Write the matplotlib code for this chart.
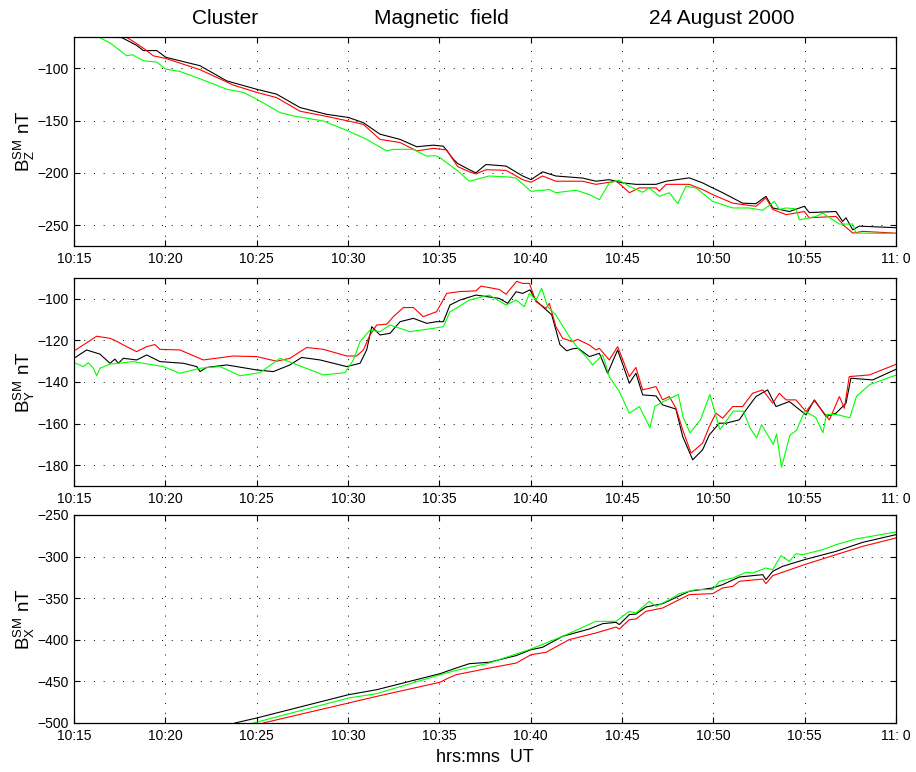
import matplotlib
matplotlib.use('Agg')
import matplotlib.pyplot as plt

plt.rcParams['font.family'] = ['Liberation Sans', 'DejaVu Sans']
plt.rcParams['mathtext.default'] = 'regular'

# time in minutes after 10:15 UT, field in nT
# Bz
bz_t_black = [0, 2.6, 2.88, 3.43, 3.8, 4.53, 5.02, 6.9, 8.36, 10.0, 11.09, 12.37, 13.83, 15.02, 15.84,
              16.75, 17.85, 18.76, 19.67, 20.22, 20.77, 21.0, 21.64, 22.0, 22.55, 23.65, 24.56, 25.02,
              25.65, 26.38, 27.84, 28.57, 29.3, 30.03, 30.76, 31.86, 32.41, 33.68, 34.41, 34.96, 35.51,
              36.6, 37.33, 37.88, 38.25, 39.16, 39.98, 40.25, 41.71, 42.08, 42.26, 42.63, 42.99, 45]
bz_black = [-70, -70.5, -73, -78, -83, -83, -89.4, -97.5, -112, -120, -124.7, -137.5, -144, -147, -152,
            -163, -168, -175, -173.5, -174.5, -187, -191, -197, -200, -192, -193.5, -203, -206.5,
            -199, -203, -205, -208, -206.5, -209.6, -211, -211, -208, -204.8, -209.6, -214.4, -219,
            -229, -229.5, -222.5, -233.6, -237, -232, -238, -237, -246.5, -243, -254.5, -251, -252.5]

bz_t_red = [0, 2.9, 3.4, 3.9, 4.34, 5.02, 6.9, 8.72, 10.0, 11.09, 12.37, 13.83, 15.02, 15.84, 16.75,
            17.85, 18.76, 19.67, 20.4, 21.0, 21.64, 22.0, 22.55, 23.65, 24.56, 25.02, 25.65, 26.38,
            27.84, 28.57, 29.67, 30.03, 30.4, 30.95, 31.86, 32.04, 32.41, 33.68, 34.41, 34.96, 36.06,
            37.33, 37.88, 38.25, 38.98, 39.98, 40.25, 41.71, 42.17, 42.63, 43.17, 45]
bz_red = [-70, -70.5, -76, -82, -88, -90.5, -101.3, -116, -123, -128, -141, -146, -150.4, -153.6, -168,
          -171, -179, -176.6, -178, -194, -199, -201, -197, -197.6, -206.5, -209, -203, -208,
          -208, -211, -208, -212.9, -219, -214.4, -214.4, -217.6, -211, -211, -216, -220.8, -229,
          -232, -224, -235, -240, -237, -243, -241.7, -250.7, -257.7, -256, -257.7]

bz_t_green = [0, 1.4, 2.0, 2.88, 3.2, 3.8, 4.53, 5.02, 5.8, 6.9, 8.36, 9.27, 10.0, 11.28, 12.0, 13.65,
              15.02, 16.02, 17.12, 17.48, 18.58, 19.31, 19.76, 20.04, 21.0, 21.64, 22.73, 23.83, 24.2,
              25.02, 26.02, 26.38, 27.48, 28.21, 28.76, 29.3, 29.85, 30.4, 31.13, 31.49, 32.04, 32.59,
              33.05, 33.5, 34.05, 34.96, 36.06, 36.97, 37.7, 38.34, 38.61, 38.98, 39.52, 39.71, 40.62,
              40.98, 41.9, 42.63, 42.81, 45]
bz_green = [-70, -70.5, -76, -87.9, -87, -92.7, -94, -100.7, -103, -110, -120, -123, -129.5, -142.3,
            -145.5, -150.4, -160, -168, -179, -177.5, -177.5, -184, -183.5, -185.6, -198, -208, -203,
            -204, -205, -217.7, -216, -219, -216.6, -220.8, -225.7, -209.6, -207, -212.9, -218.6,
            -214.4, -222.5, -219, -229.5, -212.9, -214.4, -227.3, -233.6, -233.6, -235.8, -227.3,
            -235, -233.6, -234.5, -245, -241.7, -238.5, -249, -249, -257.7, -258]

# By
by_t_black = [0, 0.69, 1.42, 1.97, 2.24, 2.43, 2.70, 3.43, 3.98, 4.71, 5.99, 6.72, 6.90, 7.26, 8.36,
              10.0, 10.91, 11.82, 12.46, 13.47, 14.93, 15.66, 16.02, 16.3, 16.75, 17.3, 17.85, 18.58,
              19.31, 19.85, 20.22, 20.58, 21.13, 22.0, 23.28, 23.74, 24.2, 24.56, 24.96, 25.3, 26.15,
              26.6, 26.97, 27.3, 27.6, 28.21, 28.76, 29.21, 29.76, 30.4, 30.76, 31.13, 31.86, 32.22,
              32.95, 33.32, 33.87, 34.41, 34.78, 35.33, 35.69, 36.42, 36.79, 37.33, 37.97, 38.43, 39.16,
              40.07, 40.53, 41.17, 41.71, 42.08, 42.26, 42.53, 43.72, 45]
by_black = [-128.6, -124.6, -126.6, -131, -129, -131, -128.6, -129.4, -127, -130.2, -131, -132.6, -135,
            -133, -131.8, -134.2, -135, -131.8, -128.2, -129.4, -132.6, -131, -124.6, -113.4, -117.4,
            -116.6, -111, -109.4, -111.8, -111, -111, -103, -100.6, -98.2, -99.8, -102.2, -96.6, -97.4,
            -95.7, -101, -107.7, -122, -125, -124, -123.8, -127.8, -126.2, -135.8, -124.6, -140.6,
            -135.8, -146.2, -146.7, -151, -153, -166.2, -177.4, -172.6, -165.4, -159.8, -159.8, -158.2,
            -153.4, -147, -143.8, -151.8, -149.4, -155.8, -148.6, -156.6, -155, -151.8, -150.2, -138.2,
            -139, -133.9]

by_t_red = [0, 1.24, 1.97, 2.24, 2.88, 3.43, 3.98, 4.43, 4.71, 5.8, 7.08, 8.72, 10.0, 11.09, 11.82,
            12.74, 13.65, 14.93, 15.47, 15.84, 16.2, 16.57, 17.12, 17.48, 18.03, 18.58, 19.12, 19.85,
            20.4, 21.13, 22.0, 22.28, 23.28, 23.65, 24.23, 24.56, 24.93, 25.29, 25.84, 26.02, 26.38,
            26.75, 27.3, 27.57, 28.21, 28.57, 28.76, 29.3, 29.76, 30.4, 30.76, 31.13, 31.86, 32.22,
            32.59, 32.95, 33.32, 33.78, 34.41, 34.78, 35.14, 35.51, 36.06, 36.6, 37.15, 37.7, 38.25,
            38.61, 38.98, 39.52, 40.07, 40.53, 41.35, 41.9, 42.17, 42.44, 43.54, 45]
by_red = [-125.1, -118, -119, -120, -123, -125.4, -123, -122, -124.3, -124.6, -129.4, -127.5, -127.8,
          -130, -128.6, -123.4, -124.3, -127.5, -127.5, -124.6, -117.4, -112.6, -112.2, -108.6, -104.2,
          -104.2, -108.6, -106.2, -97.4, -96.5, -96.2, -93.9, -95.5, -97.8, -91.6, -92.6, -92.6,
          -101.4, -104.6, -102.2, -113.4, -119, -120.6, -119.5, -122.2, -124.6, -123.8, -129.4, -123,
          -137.4, -133, -143.8, -142.2, -148.6, -147, -152.6, -163, -174.2, -169.4, -161.4, -155,
          -157.4, -151.8, -151.8, -145.4, -143.8, -150.2, -145.4, -148.6, -148.6, -154.2, -149,
          -158.2, -147, -152.6, -137.4, -136.6, -131.5]

by_t_green = [0, 0.51, 0.78, 1.06, 1.24, 1.42, 1.97, 3.25, 4.34, 4.89, 5.8, 6.9, 7.99, 9.09, 10.18,
              11.28, 12.0, 13.65, 14.84, 15.29, 15.66, 16.2, 16.75, 17.3, 18.39, 19.67, 20.22, 20.58,
              20.91, 21.64, 22.73, 23.65, 24.2, 24.65, 24.93, 25.29, 25.6, 25.93, 26.38, 27.11, 27.66,
              28.03, 28.39, 28.94, 29.3, 29.85, 30.4, 30.95, 31.53, 31.8, 32.3, 33.08, 33.35, 33.72,
              34.3, 34.81, 35.36, 36.09, 36.64, 37.0, 37.37, 37.64, 38.28, 38.46, 38.73, 39.19, 39.55,
              40.0, 40.6, 41.0, 41.19, 41.74, 42.47, 42.84, 43.57, 45]
by_green = [-130.7, -132.6, -130.7, -133.4, -137, -133.4, -131.4, -130.2, -131.8, -132.6, -135.8,
            -133.4, -132.6, -137, -135.5, -128.6, -131, -136.6, -135.5, -129.4, -120.6, -115, -115.8,
            -112.6, -115.8, -114.2, -113.4, -106.2, -104.6, -100.6, -98.2, -103, -100.6, -103.8, -97.4,
            -100.6, -94.9, -103.8, -107.8, -118.2, -124.6, -127.8, -131.8, -127, -137.4, -144.6, -155,
            -151.8, -162, -151.7, -149.3, -146, -157, -164.5, -158, -146, -162.9, -154, -154, -162,
            -166.9, -160.5, -170, -165, -181, -165.6, -163.2, -154, -157, -164.4, -155.6, -155.6,
            -157.2, -146.8, -141.2, -136.7]

# Bx
bx_t_black = [8.81, 10.0, 15.02, 16.57, 20.04, 20.91, 21.64, 22.73, 24.2, 25.02, 25.65, 26.75, 28.21,
              28.94, 29.67, 29.85, 30.4, 30.76, 31.31, 32.22, 33.68, 34.96, 35.51, 36.42, 37.7, 37.88,
              38.25, 38.79, 39.98, 41.71, 43.17, 45]
bx_black = [-500, -494, -466, -460, -440.7, -434, -428.7, -427, -419, -411.9, -409, -395.8, -387,
            -380.6, -379, -381.7, -369.8, -369, -360.6, -356.6, -341.7, -337.7, -333.7, -324.5, -321.7,
            -327.7, -317.7, -311.7, -303.7, -293.7, -282.9, -273.6]

bx_t_red = [10.36, 15.02, 16.57, 20.04, 20.49, 20.91, 22.73, 24.2, 25.02, 25.84, 27.11, 28.57, 29.67,
            29.85, 30.4, 30.76, 31.31, 32.22, 33.68, 34.96, 35.51, 36.06, 36.42, 37.7, 37.88, 38.25,
            39.98, 41.71, 43.17, 45]
bx_red = [-500, -476, -468, -451, -446, -442, -434, -428, -417.9, -415, -399.8, -391.8, -384.7, -387,
          -375.8, -375, -365.8, -361.8, -345.7, -344.5, -337.7, -335.7, -329.7, -327, -332.5, -322.9,
          -309.7, -297.7, -287.7, -277.6]

bx_t_green = [9.82, 15.02, 16.57, 20.04, 20.91, 22.73, 25.02, 26.75, 28.57, 29.67, 30.4, 30.76, 31.49,
              31.86, 32.59, 33.14, 34.05, 34.96, 35.33, 36.06, 36.79, 37.15, 37.88, 38.25, 38.7, 39.16,
              39.52, 39.89, 40.98, 41.71, 42.81, 45]
bx_green = [-500, -470, -464.7, -442, -436.7, -427.9, -411, -395.8, -377.8, -377.8, -365.8, -367.8,
            -353.8, -359.8, -351.8, -344.5, -339.7, -339.7, -329.7, -325.7, -318.9, -319.7, -313.7,
            -315.7, -298.9, -305.7, -296.5, -297.7, -291.7, -285.7, -278.8, -270.4]

xticks = [0, 5, 10, 15, 20, 25, 30, 35, 40, 45]
xticklabels = ['10:15', '10:20', '10:25', '10:30', '10:35', '10:40', '10:45', '10:50', '10:55', '11: 0']

panels = [
    ([(bz_t_black, bz_black, 'black'), (bz_t_red, bz_red, 'red'), (bz_t_green, bz_green, '#00ff00')],
     (-270, -70), [-250, -200, -150, -100], r'B$^{SM}_{Z}$ nT'),
    ([(by_t_black, by_black, 'black'), (by_t_red, by_red, 'red'), (by_t_green, by_green, '#00ff00')],
     (-190, -90), [-180, -160, -140, -120, -100], r'B$^{SM}_{Y}$ nT'),
    ([(bx_t_black, bx_black, 'black'), (bx_t_red, bx_red, 'red'), (bx_t_green, bx_green, '#00ff00')],
     (-500, -250), [-500, -450, -400, -350, -300, -250], r'B$^{SM}_{X}$ nT'),
]

fig = plt.figure(figsize=(9.16, 7.72), dpi=100)
positions = [[0.0808, 1 - 246/772, 0.8974, 209/772],
             [0.0808, 1 - 486/772, 0.8974, 208/772],
             [0.0808, 1 - 723/772, 0.8974, 208/772]]

for pos, (series, ylim, yticks, ylab) in zip(positions, panels):
    ax = fig.add_axes(pos)
    for t, v, c in series:
        ax.plot(t, v, color=c, lw=0.8)
    ax.set_xlim(0, 45)
    ax.set_ylim(*ylim)
    ax.set_xticks(xticks)
    ax.set_xticklabels(xticklabels)
    ax.set_yticks(yticks)
    ax.tick_params(direction='in', top=True, right=True, length=4.5, width=0.8,
                   labelsize=10, pad=4)
    ax.grid(True, color='black', linestyle=(0, (1, 9)), linewidth=0.7)
    for s in ax.spines.values():
        s.set_linewidth(0.9)
    ax.set_ylabel(ylab, fontsize=13.5)
    ax.yaxis.set_label_coords(-0.045, 0.5)

fig.text(225/916, 1 - 18/772, 'Cluster', fontsize=15, ha='center', va='center')
fig.text(441/916, 1 - 18/772, 'Magnetic  field', fontsize=15, ha='center', va='center')
fig.text(722/916, 1 - 18/772, '24 August 2000', fontsize=15, ha='center', va='center')
fig.text(485/916, 1 - 758/772, 'hrs:mns  UT', fontsize=13, ha='center', va='center')

fig.savefig('out.png', dpi=100)
